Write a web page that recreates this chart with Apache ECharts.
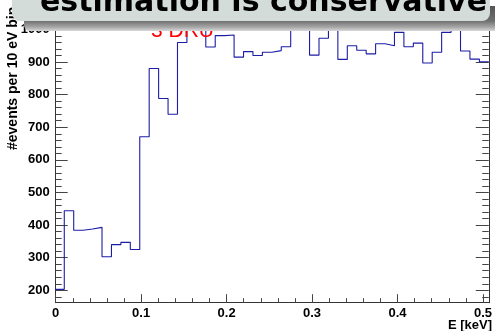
<!DOCTYPE html>
<html>
<head>
<meta charset="utf-8">
<script src="https://cdn.jsdelivr.net/npm/echarts@6/dist/echarts.min.js"></script>
<style>
  html, body { margin: 0; padding: 0; background: #fff; }
  #chart { width: 495px; height: 331px; }
</style>
</head>
<body>
<div id="chart"></div>
<script>
// Energy spectrum: events per bin, step histogram
const binStart = -0.001;      // keV, low edge of first bin
const binWidth = 0.01104;     // keV
const counts = [
  203, 444, 384, 388, 393, 303, 340, 347, 325, 671,
  880, 788, 740, 960, 1010, 1005, 946, 981, 983, 915,
  932, 920, 930, 935, 947, 1010, 1000, 921, 973, 1005,
  908, 950, 936, 925, 956, 950, 991, 947, 958, 897,
  930, 991, 1010, 934, 909, 901
];

// Axis ranges and tick positions
const xRange = [0, 0.5068];
const yRange = [162, 1050];
const xMajor = [0, 0.1, 0.2, 0.3, 0.4, 0.5];
const xMinor = [0.02, 0.04, 0.06, 0.08, 0.12, 0.14, 0.16, 0.18, 0.22, 0.24, 0.26, 0.28,
                0.32, 0.34, 0.36, 0.38, 0.42, 0.44, 0.46, 0.48];
const yMajor = [200, 300, 400, 500, 600, 700, 800, 900, 1000];
const yMinor = [180, 220, 240, 260, 280, 320, 340, 360, 380, 420, 440, 460, 480,
                520, 540, 560, 580, 620, 640, 660, 680, 720, 740, 760, 780,
                820, 840, 860, 880, 920, 940, 960, 980, 1020, 1040];

const xTitle = 'E [keV]';
const yTitle = '#events per 10 eV bin';
const bannerText = 'estimation is conservative';
const noteText = '3 DRU';

// Step points: left edge of each bin, plus the closing upper edge
const stepPoints = counts.map((c, i) => [binStart + i * binWidth, c]);
stepPoints.push([binStart + counts.length * binWidth, counts[counts.length - 1]]);

const FONT = 'Liberation Sans';
const AXIS_COLOR = '#333';
const TICK_COLOR = '#444';

function xAxisDef(ticks, len, withLine, withLabels) {
  return {
    type: 'value', min: xRange[0], max: xRange[1], position: 'bottom',
    axisLine: { show: withLine, onZero: false, lineStyle: { color: AXIS_COLOR, width: 1 } },
    axisTick: { show: true, inside: true, length: len, customValues: ticks,
                lineStyle: { color: TICK_COLOR, width: 1 } },
    axisLabel: withLabels ? {
      show: true, customValues: ticks, margin: 4,
      fontFamily: FONT, fontWeight: 'bold', fontSize: 13, color: '#000',
      formatter: v => (v === 0 ? '0' : v.toFixed(1))
    } : { show: false },
    splitLine: { show: false }
  };
}

function yAxisDef(pos, ticks, len, withLine, withLabels) {
  return {
    type: 'value', min: yRange[0], max: yRange[1], position: pos,
    axisLine: { show: withLine, onZero: false, lineStyle: { color: AXIS_COLOR, width: 1 } },
    axisTick: { show: true, inside: true, length: len, customValues: ticks,
                lineStyle: { color: TICK_COLOR, width: 1 } },
    axisLabel: withLabels ? {
      show: true, customValues: ticks, margin: 6,
      fontFamily: FONT, fontWeight: 'bold', fontSize: 13, color: '#000',
      formatter: v => String(v)
    } : { show: false },
    splitLine: { show: false }
  };
}

const chart = echarts.init(document.getElementById('chart'), null, { renderer: 'canvas' });

chart.setOption({
  animation: false,
  backgroundColor: '#fff',
  grid: { left: 55.7, right: 2.4, top: 13.1, bottom: 28.3, containLabel: false },
  xAxis: [
    xAxisDef(xMajor, 8.5, true, true),
    xAxisDef(xMinor, 4.5, false, false)
  ],
  yAxis: [
    yAxisDef('left', yMajor, 12, true, true),
    yAxisDef('left', yMinor, 6, false, false),
    yAxisDef('right', yMajor, 13, true, false),
    yAxisDef('right', yMinor, 6.5, false, false)
  ],
  series: [{
    type: 'line',
    xAxisIndex: 0, yAxisIndex: 0,
    data: stepPoints,
    step: 'end',
    showSymbol: false,
    clip: true,
    lineStyle: { color: '#1c1ca6', width: 1.1 },
    z: 3
  }],
  graphic: [
    // red annotation, partly tucked under the banner
    { type: 'text', x: 151, y: 41.5, z: 10,
      style: { text: noteText, fill: '#ff0000', font: '21px "Liberation Sans"',
               align: 'left', verticalAlign: 'bottom' } },
    // axis titles
    { type: 'text', x: 13, y: 150, rotation: Math.PI / 2, z: 10,
      style: { text: yTitle, fill: '#000', font: 'bold 14px "Liberation Sans"',
               align: 'left', verticalAlign: 'middle' } },
    { type: 'text', x: 492, y: 325, z: 10,
      style: { text: xTitle, fill: '#000', font: 'bold 13px "Liberation Sans"',
               align: 'right', verticalAlign: 'middle' } },
    // banner drop shadow
    { type: 'rect', z: 100,
      shape: { x: 24, y: 6, width: 480, height: 25, r: 6 },
      style: {
        fill: new echarts.graphic.LinearGradient(0, 0, 0, 1, [
          { offset: 0, color: '#555' },
          { offset: 0.6, color: '#707070' },
          { offset: 0.85, color: '#a8a8a8' },
          { offset: 1, color: '#d8d8d8' }
        ])
      } },
    // banner box
    { type: 'rect', z: 101,
      shape: { x: 12, y: -24, width: 478, height: 45, r: 8 },
      style: { fill: '#d4dcd9' } },
    { type: 'text', x: 40, y: 18, z: 102,
      style: { text: bannerText, fill: '#000', font: 'bold 30px "DejaVu Sans"',
               align: 'left', verticalAlign: 'bottom' } }
  ]
});
</script>
</body>
</html>
